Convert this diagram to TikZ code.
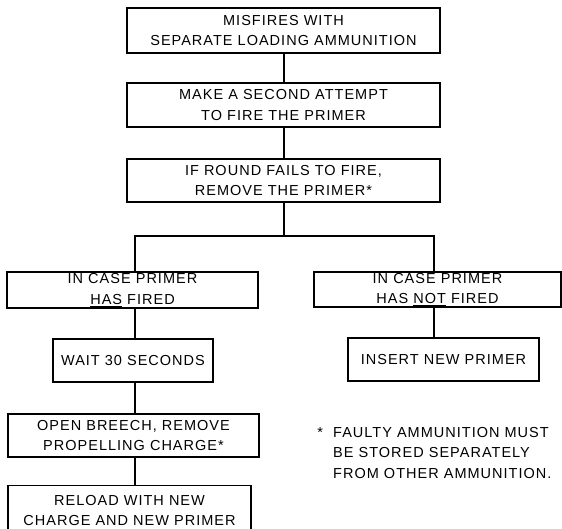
\documentclass[tikz,border=0pt]{standalone}
\usepackage{fontspec}
\setmainfont{Liberation Sans}[LetterSpace=7]
\begin{document}
\begin{tikzpicture}[x=1pt,y=-1pt,
  box/.style={draw, line width=1.1pt, rectangle, inner sep=0pt, align=center,
    font=\fontsize{14.5}{20.5}\selectfont},
  link/.style={line width=1.1pt},
  note/.style={align=left, inner sep=0pt, font=\fontsize{14.5}{20.5}\selectfont}]
\useasboundingbox (0,0) rectangle (562,528);
\clip (0,0) rectangle (562,528);
\node[box, minimum width=313pt, minimum height=45pt] (b1) at (283.5,30.5)
  {MISFIRES WITH\\SEPARATE LOADING AMMUNITION};
\node[box, minimum width=313pt, minimum height=44pt] (b2) at (283.5,105)
  {MAKE A SECOND ATTEMPT\\TO FIRE THE PRIMER};
\node[box, minimum width=313pt, minimum height=43pt] (b3) at (283.5,180.5)
  {IF ROUND FAILS TO FIRE,\\REMOVE THE PRIMER*};
\node[box, minimum width=251pt, minimum height=36pt] (b4) at (132.5,290)
  {IN CASE PRIMER\\\underline{HAS} FIRED};
\node[box, minimum width=247pt, minimum height=35pt] (b5) at (437.5,289.5)
  {IN CASE PRIMER\\HAS \underline{NOT} FIRED};
\node[box, minimum width=160pt, minimum height=43pt] (wait) at (133,360.5)
  {WAIT 30 SECONDS};
\node[box, minimum width=191pt, minimum height=43pt] (ins) at (443.5,359.5)
  {INSERT NEW PRIMER};
\node[box, minimum width=251pt, minimum height=43pt] (open) at (133.5,435.5)
  {OPEN BREECH, REMOVE\\PROPELLING CHARGE*};
\node[box, minimum width=243pt, minimum height=50pt] (rel) at (129.5,510.5)
  {RELOAD WITH NEW\\CHARGE AND NEW PRIMER};
\node[note, anchor=base west] (fn) at (333,478)
  {\llap{*\ \ }FAULTY AMMUNITION MUST\\BE STORED SEPARATELY\\FROM OTHER AMMUNITION.};
\coordinate (split) at (284,236);
\coordinate (sl) at (135,236);
\coordinate (sr) at (434,236);
\draw[link] (b1.south -| split) -- (b2.north -| split);
\draw[link] (b2.south -| split) -- (b3.north -| split);
\draw[link] (b3.south -| split) -- (split);
\draw[link] (b4.north -| sl) -- (sl) -- (sr) -- (b5.north -| sr);
\draw[link] (b4.south -| sl) -- (wait.north -| sl);
\draw[link] (wait.south -| sl) -- (open.north -| sl);
\draw[link] (open.south -| sl) -- (rel.north -| sl);
\draw[link] (b5.south -| sr) -- (ins.north -| sr);
\end{tikzpicture}
\end{document}
